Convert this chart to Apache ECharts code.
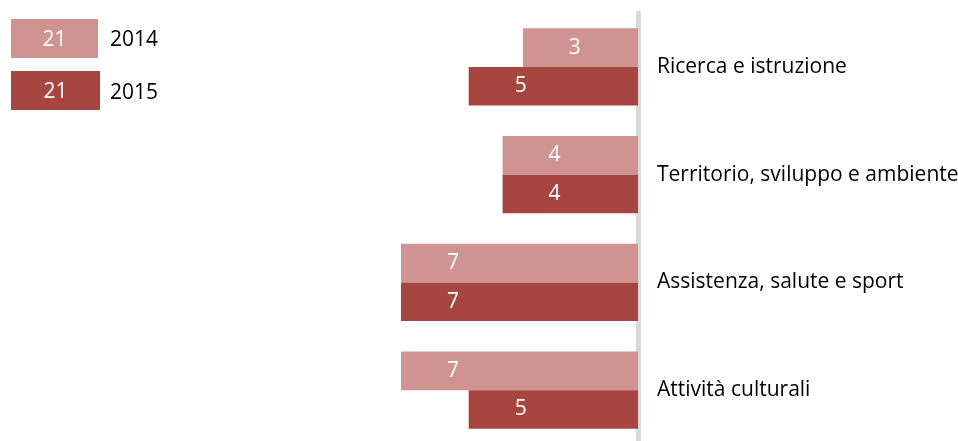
<!DOCTYPE html>
<html>
<head>
<meta charset="utf-8">
<script src="https://cdn.jsdelivr.net/npm/echarts@6/dist/echarts.min.js"></script>
<style>
  html, body { margin: 0; padding: 0; background: #fff; }
  #chart { width: 958px; height: 441px; }
</style>
</head>
<body>
<div id="chart"></div>
<script>
const categories = ['Ricerca e istruzione', 'Territorio, sviluppo e ambiente', 'Assistenza, salute e sport', 'Attività culturali'];
const values2014 = [3.4, 4, 7, 7];
const values2015 = [5, 4, 7, 5];
const totals = { '2014': 21, '2015': 21 };

const light = '#cf9492';
const dark = '#a74640';
const font = '"Open Sans", "Liberation Sans", sans-serif';

const chart = echarts.init(document.getElementById('chart'));

const barLabel = {
  show: true,
  position: [52, '50%'],
  align: 'center',
  verticalAlign: 'middle',
  color: '#fff',
  fontFamily: font,
  fontSize: 21,
  formatter: p => Math.round(p.value)
};

chart.setOption({
  animation: false,
  textStyle: { fontFamily: font },
  legend: {
    orient: 'vertical',
    left: 6,
    top: 19,
    padding: 0,
    itemWidth: 0,
    itemHeight: 0,
    itemGap: 13,
    icon: 'rect',
    selectedMode: false,
    data: ['2014', '2015'],
    formatter: name => `{b${name}|${totals[name]}}{t${name}|${name}}`,
    textStyle: {
      rich: {
        b2014: { backgroundColor: light, color: '#fff', width: 87, height: 36, align: 'center', fontSize: 21, fontFamily: font, padding: [3, 0, 0, 0] },
        b2015: { backgroundColor: dark, color: '#fff', width: 89, height: 36, align: 'center', fontSize: 21, fontFamily: font, padding: [3, 0, 0, 0] },
        t2014: { color: '#000', fontSize: 21, padding: [3, 0, 0, 12], fontFamily: font },
        t2015: { color: '#000', fontSize: 21, padding: [5, 0, 0, 10], fontFamily: font }
      }
    }
  },
  grid: { left: 299.4, right: 320, top: 13, height: 431, outerBoundsMode: 'none' },
  xAxis: {
    type: 'value',
    inverse: true,
    min: 0,
    max: 10,
    show: false
  },
  yAxis: {
    type: 'category',
    inverse: true,
    position: 'right',
    offset: 3,
    data: categories,
    axisLine: { show: true, lineStyle: { color: '#d9d9d9', width: 5 } },
    axisTick: { show: false },
    axisLabel: { color: '#000', fontSize: 21, fontFamily: font, margin: 16, padding: [5, 0, 0, 0] }
  },
  series: [
    {
      name: '2014', type: 'bar', data: values2014,
      itemStyle: { color: light },
      barGap: 0, barCategoryGap: '28.5%',
      label: barLabel
    },
    {
      name: '2015', type: 'bar', data: values2015,
      itemStyle: { color: dark },
      barGap: 0, barCategoryGap: '28.5%',
      label: barLabel
    }
  ]
});
</script>
</body>
</html>
